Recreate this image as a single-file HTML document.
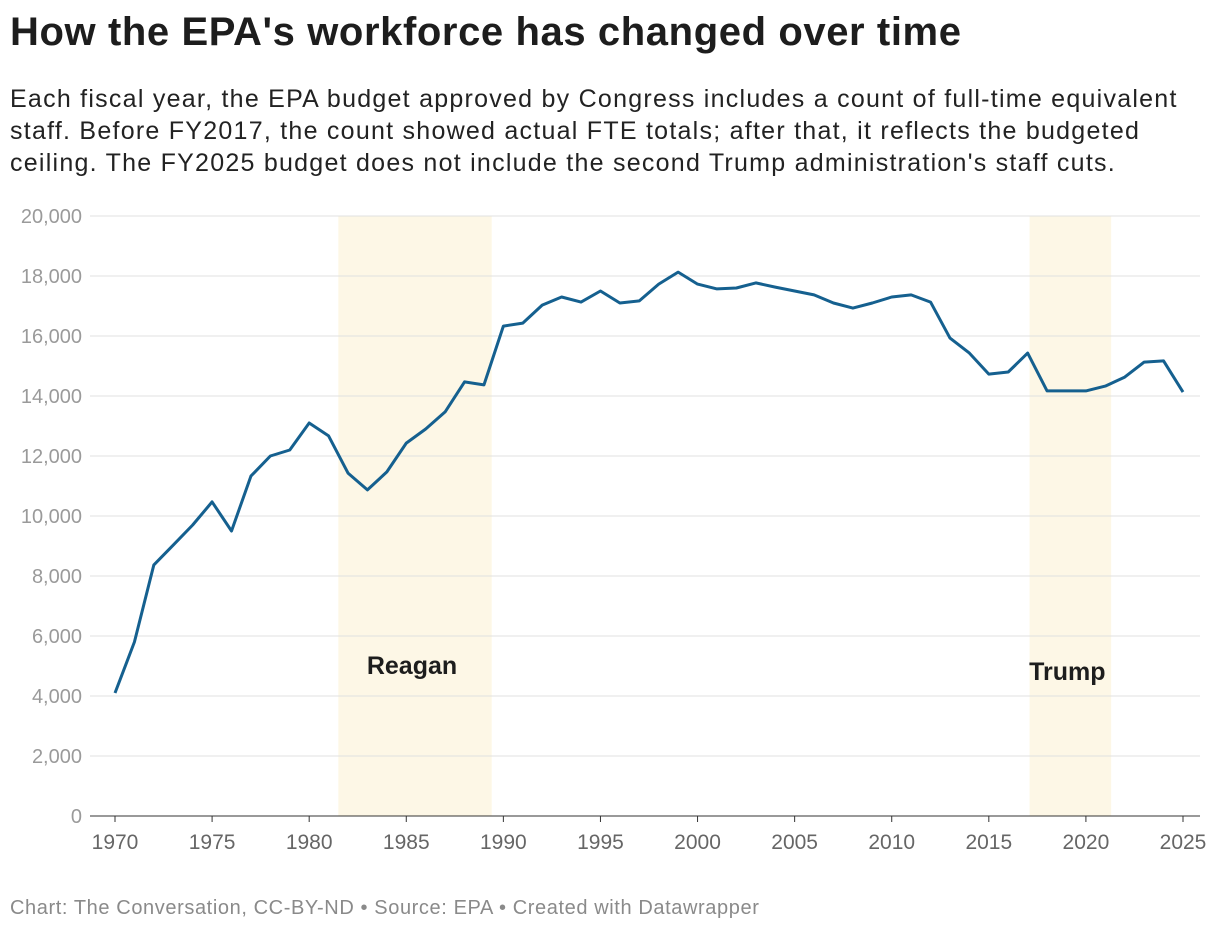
<!DOCTYPE html>
<html><head><meta charset="utf-8">
<style>
body{margin:0;background:#fff;font-family:"Liberation Sans",Arial,sans-serif;}
#wrap{position:relative;width:1220px;height:932px;overflow:hidden;}
h1{position:absolute;left:10px;top:10px;margin:0;font-size:40px;font-weight:bold;color:#1d1d1d;letter-spacing:0.6px;white-space:nowrap;}
#sub{position:absolute;left:10px;top:83px;width:1210px;font-size:25px;letter-spacing:1.25px;line-height:32px;color:#222;white-space:nowrap;}
#foot{position:absolute;left:10px;top:897px;font-size:20px;letter-spacing:0.6px;color:#8a8a8a;white-space:nowrap;}
svg{position:absolute;left:0;top:0;}
</style></head><body>
<div id="wrap">
<h1>How the EPA's workforce has changed over time</h1>
<div id="sub">Each fiscal year, the EPA budget approved by Congress includes a count of full-time equivalent<br>staff. Before FY2017, the count showed actual FTE totals; after that, it reflects the budgeted<br>ceiling. The FY2025 budget does not include the second Trump administration's staff cuts.</div>
<svg id="chart" width="1220" height="932"></svg>
<div id="foot">Chart: The Conversation, CC-BY-ND • Source: EPA • Created with Datawrapper</div>
</div>
<script>
const years=[1970,1971,1972,1973,1974,1975,1976,1977,1978,1979,1980,1981,1982,1983,1984,1985,1986,1987,1988,1989,1990,1991,1992,1993,1994,1995,1996,1997,1998,1999,2000,2001,2002,2003,2004,2005,2006,2007,2008,2009,2010,2011,2012,2013,2014,2015,2016,2017,2018,2019,2020,2021,2022,2023,2024,2025];
const staff=[4100,5800,8370,9030,9700,10470,9500,11330,12000,12200,13100,12670,11430,10870,11470,12430,12900,13470,14470,14370,16330,16430,17030,17300,17130,17500,17100,17170,17730,18130,17730,17570,17600,17770,17630,17500,17370,17100,16930,17100,17300,17370,17130,15930,15430,14730,14800,15430,14170,14170,14170,14330,14630,15130,15170,14130];
const yTicks=[0,2000,4000,6000,8000,10000,12000,14000,16000,18000,20000];
const xTicks=[1970,1975,1980,1985,1990,1995,2000,2005,2010,2015,2020,2025];
const bandNames=["Reagan","Trump"];
const bandStart=[1981.5,2017.1];
const bandEnd=[1989.4,2021.3];
const bandLabelValue=[5000,4800];

const svg=document.getElementById('chart');
const NS='http://www.w3.org/2000/svg';
const x=v=>115+(v-1970)*(1183-115)/55;
const y=v=>816-v*600/20000;
function mk(t,a){const e=document.createElementNS(NS,t);for(const k in a)e.setAttribute(k,a[k]);svg.appendChild(e);return e;}

for(let i=0;i<bandNames.length;i++){
  const r=mk('rect',{x:x(bandStart[i]),y:y(20000),width:x(bandEnd[i])-x(bandStart[i]),height:y(0)-y(20000),fill:'#fdf7e6'});
  
  
}
yTicks.forEach(t=>{
  const l=mk('line',{x1:90,x2:1200,y1:y(t),y2:y(t),stroke:t===0?'#333':'#e0e0e0','stroke-width':1});
  
  
  const tx=mk('text',{x:82,y:y(t)+7,'text-anchor':'end','font-size':20,fill:'#9a9a9a','font-family':'Liberation Sans, sans-serif'});
  tx.textContent=t.toLocaleString('en-US');
  
  
});
xTicks.forEach(t=>{
  const l=mk('line',{x1:x(t),x2:x(t),y1:816,y2:822,stroke:'#333'});
  
  
  const tx=mk('text',{x:x(t),y:849,'text-anchor':'middle','font-size':21,fill:'#666','font-family':'Liberation Sans, sans-serif'});
  tx.textContent=t;
  
  
});
for(let i=0;i<bandNames.length;i++){
  const tx=mk('text',{x:(x(bandStart[i])+x(bandEnd[i]))/2-3,y:y(bandLabelValue[i])+8,'text-anchor':'middle','font-size':25,'font-weight':'bold',fill:'#1d1d1d','font-family':'Liberation Sans, sans-serif'});
  tx.textContent=bandNames[i];
  
  
}
const p=mk('polyline',{points:years.map((yr,i)=>x(yr)+','+y(staff[i])).join(' '),fill:'none',stroke:'#15608f','stroke-width':3,'stroke-linejoin':'round'});


</script>
</body></html>
